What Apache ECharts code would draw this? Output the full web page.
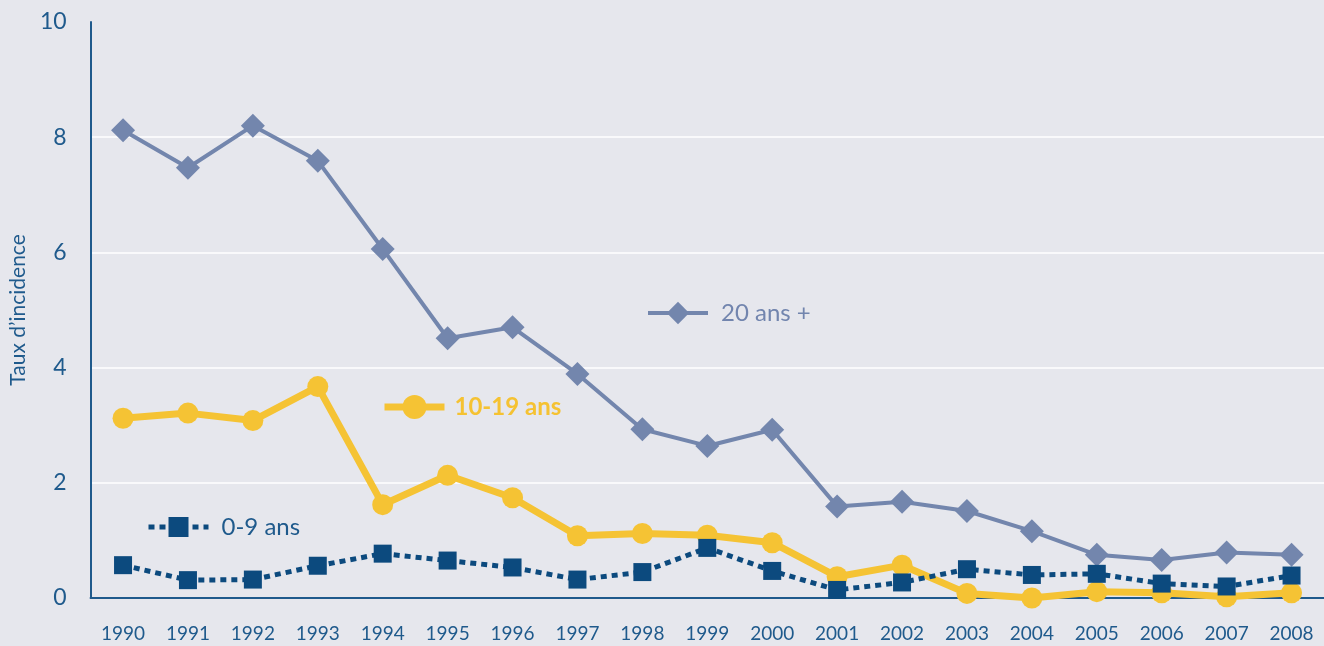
<!DOCTYPE html>
<html>
<head>
<meta charset="utf-8">
<script src="https://cdn.jsdelivr.net/npm/echarts@6/dist/echarts.min.js"></script>
<style>
  html, body { margin: 0; padding: 0; background: #e6e7ed; }
  #chart { width: 1324px; height: 646px; }
</style>
</head>
<body>
<div id="chart"></div>
<script>
// annees (axe x)
var years = ['1990','1991','1992','1993','1994','1995','1996','1997','1998','1999',
             '2000','2001','2002','2003','2004','2005','2006','2007','2008'];
// taux d'incidence par groupe d'age
var ans20plus = [8.12, 7.47, 8.2, 7.59, 6.06, 4.51, 4.7, 3.89, 2.93, 2.64,
                 2.92, 1.59, 1.67, 1.51, 1.16, 0.75, 0.66, 0.79, 0.75];
var ans10_19  = [3.12, 3.21, 3.08, 3.67, 1.62, 2.13, 1.74, 1.08, 1.12, 1.09,
                 0.96, 0.37, 0.57, 0.08, 0.0, 0.11, 0.09, 0.02, 0.09];
var ans0_9    = [0.57, 0.31, 0.32, 0.56, 0.77, 0.65, 0.53, 0.32, 0.45, 0.87,
                 0.47, 0.14, 0.27, 0.5, 0.4, 0.42, 0.25, 0.2, 0.39];
var yTicks = [0, 2, 4, 6, 8, 10];

var axisBlue = '#1f5a8c';
var font = 'Lato';

var myChart = echarts.init(document.getElementById('chart'));
var option = {
    backgroundColor: '#e6e7ed',
    animation: false,
    textStyle: { fontFamily: font },
    grid: { left: 89, right: -5, top: 22, bottom: 48 },
    legend: [
        {
            data: ['20 ans +'], left: 646, top: 301, padding: 0,
            itemWidth: 60, itemHeight: 28,
            lineStyle: { width: 4 },
            textStyle: { color: '#7285ae', fontSize: 24, fontFamily: font, padding: [0, 0, 0, 8] }
        },
        {
            data: ['10-19 ans'], left: 381, top: 395, padding: 0,
            itemWidth: 60, itemHeight: 30,
            lineStyle: { width: 7 },
            textStyle: { color: '#f5c232', fontSize: 24, fontWeight: 'bold', fontFamily: font, padding: [0, 0, 0, 5] }
        },
        {
            data: ['0-9 ans'], left: 146, top: 515, padding: 0,
            itemWidth: 60, itemHeight: 25,
            lineStyle: { width: 5, type: [6, 5] },
            textStyle: { color: axisBlue, fontSize: 24, fontFamily: font, padding: [0, 0, 0, 8] }
        }
    ],
    xAxis: {
        type: 'category',
        data: years,
        boundaryGap: true,
        axisLine: { lineStyle: { color: axisBlue, width: 2 } },
        axisTick: { show: false },
        axisLabel: { color: axisBlue, fontSize: 19, margin: 26, interval: 0 },
        splitLine: { show: false }
    },
    yAxis: {
        type: 'value',
        min: yTicks[0],
        max: yTicks[yTicks.length - 1],
        interval: 2,
        name: 'Taux d\u2019incidence',
        nameLocation: 'middle',
        nameGap: 56,
        nameTextStyle: { color: axisBlue, fontSize: 21, fontFamily: font },
        axisLine: { show: true, lineStyle: { color: axisBlue, width: 2 } },
        axisTick: { show: false },
        axisLabel: { color: axisBlue, fontSize: 23, margin: 24 },
        // pas de ligne blanche a 10
        splitLine: { show: true, showMaxLine: false, lineStyle: { color: '#ffffff', width: 1.5 } }
    },
    series: [
        {
            name: '20 ans +',
            type: 'line',
            data: ans20plus,
            symbol: 'diamond',
            symbolSize: 24,
            color: '#7386ad',
            lineStyle: { width: 4, color: '#7386ad' },
            itemStyle: { color: '#7386ad' }
        },
        {
            name: '10-19 ans',
            type: 'line',
            data: ans10_19,
            symbol: 'circle',
            symbolSize: 21,
            color: '#f5c334',
            lineStyle: { width: 7, color: '#f5c334' },
            itemStyle: { color: '#f5c334' }
        },
        {
            name: '0-9 ans',
            type: 'line',
            data: ans0_9,
            symbol: 'rect',
            symbolSize: 18,
            color: '#0c4a7e',
            lineStyle: { width: 5, type: [6, 5], color: '#0c4a7e' },
            itemStyle: { color: '#0c4a7e' }
        }
    ]
};
myChart.setOption(option);
</script>
</body>
</html>
